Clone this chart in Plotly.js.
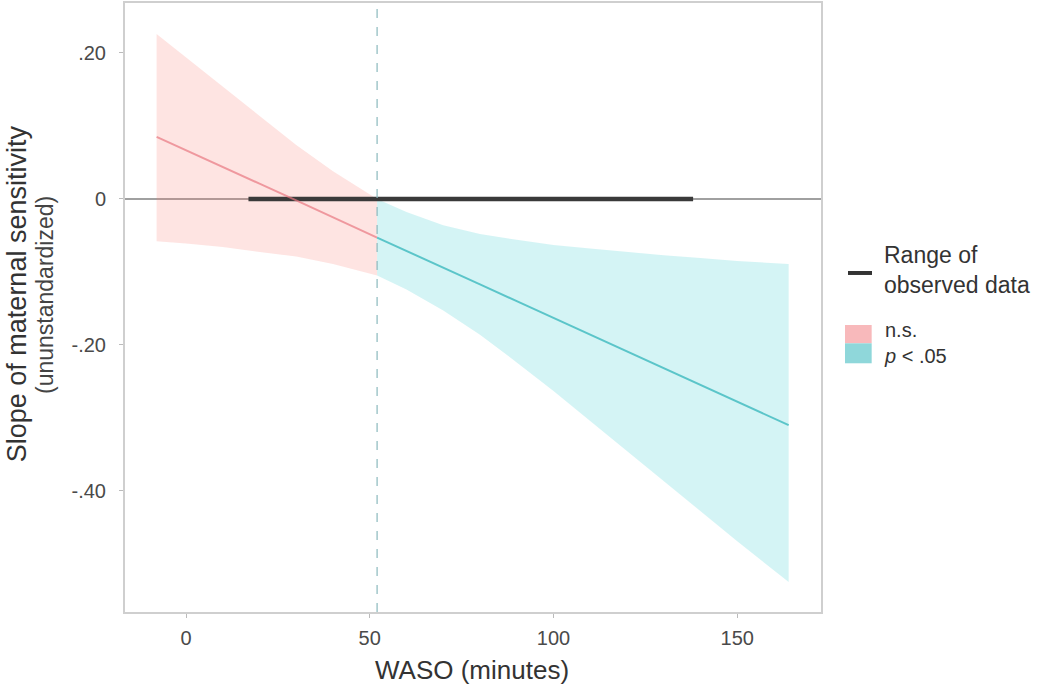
<!DOCTYPE html>
<html>
<head>
<meta charset="utf-8">
<script src="https://cdn.plot.ly/plotly-3.0.1.min.js"></script>
<style>html,body{margin:0;padding:0;background:#fff;}#chart{width:1050px;height:688px;}</style>
</head>
<body>
<div id="chart"></div>
<script>
// Non-significant region (n.s.)
const nsX     = [-8, 0, 10, 20, 30, 40, 52];
const nsSlope = [0.085, 0.067, 0.044, 0.021, -0.002, -0.025, -0.053];
const nsUpper = [0.226, 0.194, 0.153, 0.113, 0.074, 0.038, 0.000];
const nsLower = [-0.058, -0.061, -0.066, -0.072, -0.079, -0.089, -0.105];

// Significant region (p < .05)
const sigX     = [52, 60, 70, 80, 90, 100, 110, 120, 130, 140, 150, 164];
const sigSlope = [-0.053, -0.071, -0.094, -0.117, -0.140, -0.163, -0.186, -0.209, -0.232, -0.255, -0.278, -0.310];
const sigUpper = [0.000, -0.018, -0.036, -0.048, -0.056, -0.063, -0.068, -0.073, -0.077, -0.081, -0.085, -0.089];
const sigLower = [-0.105, -0.124, -0.153, -0.186, -0.224, -0.263, -0.304, -0.345, -0.387, -0.428, -0.469, -0.525];

// Range of observed data and Johnson-Neyman point
const obsRangeX = [17, 138];
const obsRangeY = [0, 0];
const jnPoint = 52;

const yTickVals = [0.2, 0, -0.2, -0.4];
const yTickText = ['.20', '0', '-.20', '-.40'];
const xTickVals = [0, 50, 100, 150];
const xTickText = ['0', '50', '100', '150'];

const pinkFill = 'rgba(248,118,109,0.20)';
const tealFill = 'rgba(0,191,196,0.17)';

function band(xs, up, lo, color) {
  return {
    x: xs.concat(xs.slice().reverse()),
    y: up.concat(lo.slice().reverse()),
    type: 'scatter', mode: 'lines', fill: 'toself',
    fillcolor: color, line: {width: 0}, hoverinfo: 'skip', showlegend: false
  };
}

const traces = [
  band(nsX, nsUpper, nsLower, pinkFill),
  band(sigX, sigUpper, sigLower, tealFill),
  {x: obsRangeX, y: obsRangeY, type: 'scatter', mode: 'lines',
   line: {color: '#3a3a3a', width: 4.5}, showlegend: false},
  {x: nsX, y: nsSlope, type: 'scatter', mode: 'lines',
   line: {color: 'rgba(232,120,130,0.7)', width: 2}, showlegend: false},
  {x: sigX, y: sigSlope, type: 'scatter', mode: 'lines',
   line: {color: 'rgba(60,185,190,0.8)', width: 2}, showlegend: false}
];

const fontFam = '"Liberation Sans", Arial, Helvetica, sans-serif';

const layout = {
  width: 1050, height: 688,
  margin: {l: 125, r: 229, t: 3, b: 76},
  paper_bgcolor: '#fff', plot_bgcolor: '#fff',
  font: {family: fontFam, color: '#444'},
  showlegend: false,
  xaxis: {
    range: [-16.6, 172.8], tickvals: xTickVals, ticktext: xTickText,
    showgrid: false, zeroline: false,
    showline: true, mirror: true, linecolor: '#cfcfcf', linewidth: 2,
    ticks: 'outside', ticklen: 4, tickcolor: '#bbb', tickwidth: 1,
    ticklabelstandoff: 3,
    tickfont: {size: 20, color: '#4a4a4a', family: fontFam}
  },
  yaxis: {
    range: [-0.566, 0.2685], tickvals: yTickVals, ticktext: yTickText,
    showgrid: false, zeroline: false,
    showline: true, mirror: true, linecolor: '#cfcfcf', linewidth: 2,
    ticks: 'outside', ticklen: 4, tickcolor: '#bbb', tickwidth: 1,
    ticklabelstandoff: 9,
    tickfont: {size: 20, color: '#4a4a4a', family: fontFam}
  },
  shapes: [
    {type: 'line', xref: 'paper', yref: 'y', x0: 0, x1: 1, y0: 0, y1: 0,
     line: {color: '#a0a0a0', width: 2}, layer: 'below'},
    {type: 'line', xref: 'x', yref: 'paper', x0: jnPoint, x1: jnPoint, y0: 0, y1: 1,
     line: {color: '#8ab9bd', width: 1.2, dash: 'dash'}},
    // legend keys
    {type: 'line', xref: 'paper', yref: 'paper', x0: 1.0388, x1: 1.0733, y0: 0.5567, y1: 0.5567,
     line: {color: '#333', width: 4}},
    {type: 'rect', xref: 'paper', yref: 'paper', x0: 1.0345, x1: 1.0728, y0: 0.4412, y1: 0.4713,
     fillcolor: '#f8b9bb', line: {width: 0}},
    {type: 'rect', xref: 'paper', yref: 'paper', x0: 1.0345, x1: 1.0728, y0: 0.4084, y1: 0.4412,
     fillcolor: '#8fd7da', line: {width: 0}}
  ],
  annotations: [
    {xref: 'paper', yref: 'paper', x: -0.155, y: 0.522, textangle: -90, showarrow: false,
     xanchor: 'center', yanchor: 'middle', text: 'Slope of maternal sensitivity',
     font: {size: 27, color: '#333', family: fontFam}},
    {xref: 'paper', yref: 'paper', x: -0.114, y: 0.52, textangle: -90, showarrow: false,
     xanchor: 'center', yanchor: 'middle', text: '(ununstandardized)',
     font: {size: 23, color: '#444', family: fontFam}},
    {xref: 'paper', yref: 'paper', x: 0.4986, y: -0.0952, showarrow: false,
     xanchor: 'center', yanchor: 'middle', text: 'WASO (minutes)',
     font: {size: 26, color: '#333', family: fontFam}},
    {xref: 'paper', yref: 'paper', x: 1.0876, y: 0.5616, showarrow: false,
     xanchor: 'left', yanchor: 'middle', align: 'left', text: 'Range of<br>observed data',
     font: {size: 23, color: '#333', family: fontFam}},
    {xref: 'paper', yref: 'paper', x: 1.0876, y: 0.4417, showarrow: false,
     xanchor: 'left', yanchor: 'middle', align: 'left', text: 'n.s.<br><i>p</i> < .05',
     font: {size: 20, color: '#333', family: fontFam}}
  ]
};

Plotly.newPlot('chart', traces, layout, {staticPlot: true, displayModeBar: false});
</script>
</body>
</html>
